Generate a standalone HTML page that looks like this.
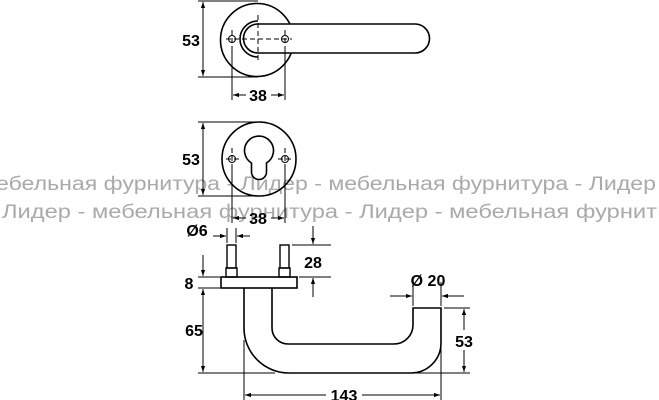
<!DOCTYPE html>
<html><head><meta charset="utf-8"><style>
html,body{margin:0;padding:0;background:#fff;width:659px;height:400px;overflow:hidden}
svg{display:block}
.d{font-family:"Liberation Sans",sans-serif;font-weight:bold;font-size:16px;fill:#000}
.w{font-family:"Liberation Sans","DejaVu Sans",sans-serif;font-size:19px;fill:#aaa}
</style></head><body>
<svg width="659" height="400" viewBox="0 0 659 400" xmlns="http://www.w3.org/2000/svg">
<defs>
<marker id="a" viewBox="0 0 10 10" refX="10" refY="5" markerWidth="9" markerHeight="6" orient="auto-start-reverse"><path d="M0,1.5 L10,5 L0,8.5 z" fill="#000"/></marker>
</defs>
<text class="w" x="-4" y="190" textLength="660" lengthAdjust="spacingAndGlyphs">ебельная фурнитура - Лидер - мебельная фурнитура - Лидер</text>
<text class="w" x="2" y="218" textLength="655" lengthAdjust="spacingAndGlyphs"> Лидер - мебельная фурнитура - Лидер - мебельная фурнит</text>
<g stroke="#000" fill="none" stroke-width="1">
<!-- top view -->
<circle cx="257" cy="40" r="36.5" stroke-width="1.6"/>
<path d="M258,24 L415,24 A14.5,14.5 0 0 1 415,53 L258,53 A14.5,14.5 0 0 1 258,24 Z" fill="#fff" stroke-width="1.6"/>
<path d="M258,21 A18,18 0 0 0 258,57" stroke-width="1.6"/>
<g stroke-dasharray="5,3"><line x1="226" y1="39" x2="292" y2="39"/><line x1="258" y1="15" x2="258" y2="63"/><line x1="232" y1="30" x2="232" y2="48"/><line x1="285" y1="30" x2="285" y2="48"/></g>
<circle cx="232" cy="39" r="3.5"/><circle cx="285" cy="39" r="3.5"/>
<line x1="198" y1="1" x2="258" y2="1"/><line x1="198" y1="77" x2="258" y2="77"/>
<line x1="203" y1="2" x2="203" y2="76" marker-start="url(#a)" marker-end="url(#a)"/>
<line x1="232" y1="48" x2="232" y2="100"/><line x1="285" y1="48" x2="285" y2="100"/>
<line x1="233" y1="95" x2="246" y2="95" marker-start="url(#a)"/><line x1="271" y1="95" x2="284" y2="95" marker-end="url(#a)"/>
<!-- middle view -->
<circle cx="259" cy="159" r="37" stroke-width="1.6"/>
<path d="M251.5,163 A14.5,14.5 0 1 1 266.5,163 L266.5,172 A7.5,7.5 0 0 1 251.5,172 Z" stroke-width="1.6"/>
<g stroke-dasharray="5,3"><line x1="226" y1="159" x2="240" y2="159"/><line x1="278" y1="159" x2="292" y2="159"/><line x1="232" y1="148" x2="232" y2="170"/><line x1="285" y1="148" x2="285" y2="170"/></g>
<circle cx="232" cy="159" r="3.5"/><circle cx="285" cy="159" r="3.5"/>
<line x1="198" y1="122" x2="259" y2="122"/><line x1="198" y1="196" x2="259" y2="196"/>
<line x1="203" y1="123" x2="203" y2="195" marker-start="url(#a)" marker-end="url(#a)"/>
<line x1="232" y1="168" x2="232" y2="223"/><line x1="285" y1="168" x2="285" y2="223"/>
<line x1="233" y1="218" x2="246" y2="218" marker-start="url(#a)"/><line x1="271" y1="218" x2="284" y2="218" marker-end="url(#a)"/>
<!-- bottom view -->
<line x1="227" y1="228" x2="227" y2="243"/><line x1="236" y1="228" x2="236" y2="243"/>
<line x1="213" y1="236" x2="226" y2="236" marker-end="url(#a)"/><line x1="250" y1="236" x2="237" y2="236" marker-end="url(#a)"/>
<rect x="227" y="245" width="9" height="23" stroke-width="1.4"/><rect x="226" y="268" width="11" height="9" stroke-width="1.4"/>
<rect x="280" y="245" width="9" height="23" stroke-width="1.4"/><rect x="279" y="268" width="11" height="9" stroke-width="1.4"/>
<rect x="221" y="277" width="76" height="11" stroke-width="1.6"/>
<line x1="292" y1="245" x2="331" y2="245"/><line x1="299" y1="277" x2="331" y2="277"/>
<line x1="313" y1="226" x2="313" y2="244" marker-end="url(#a)"/><line x1="313" y1="297" x2="313" y2="278" marker-end="url(#a)"/>
<line x1="198" y1="277" x2="220" y2="277"/><line x1="198" y1="288" x2="220" y2="288"/>
<line x1="203" y1="255" x2="203" y2="276" marker-end="url(#a)"/>
<line x1="203" y1="289" x2="203" y2="372" marker-start="url(#a)" marker-end="url(#a)"/>
<line x1="198" y1="373" x2="275" y2="373"/>
<path d="M244,288 L244,328 A45,45 0 0 0 289,373 L411,373 A30,30 0 0 0 441,343 L441,308 L413,308 L413,325 A19,19 0 0 1 394,344 L288,344 A16,16 0 0 1 272,328 L272,288" stroke-width="1.6"/>
<line x1="413" y1="282" x2="413" y2="306"/><line x1="441" y1="282" x2="441" y2="306"/>
<line x1="390" y1="296" x2="412" y2="296" marker-end="url(#a)"/><line x1="464" y1="296" x2="442" y2="296" marker-end="url(#a)"/>
<line x1="444" y1="308" x2="470" y2="308"/><line x1="410" y1="373" x2="470" y2="373"/>
<line x1="464" y1="309" x2="464" y2="330" marker-start="url(#a)"/><line x1="464" y1="350" x2="464" y2="372" marker-end="url(#a)"/>
<line x1="244" y1="340" x2="244" y2="400"/><line x1="441" y1="345" x2="441" y2="400"/>
<line x1="245" y1="395" x2="326" y2="395" marker-start="url(#a)"/><line x1="362" y1="395" x2="440" y2="395" marker-end="url(#a)"/>
</g>
<g class="d">
<text x="191" y="46" text-anchor="middle">53</text>
<text x="258" y="101" text-anchor="middle">38</text>
<text x="191" y="165" text-anchor="middle">53</text>
<text x="258" y="224" text-anchor="middle">38</text>
<text x="197" y="236" text-anchor="middle">Ø6</text>
<text x="313" y="268" text-anchor="middle">28</text>
<text x="189" y="289" text-anchor="middle">8</text>
<text x="194" y="336" text-anchor="middle">65</text>
<text x="428" y="286" text-anchor="middle">Ø 20</text>
<text x="464" y="347" text-anchor="middle">53</text>
<text x="344" y="401" text-anchor="middle">143</text>
</g>
</svg>
</body></html>
